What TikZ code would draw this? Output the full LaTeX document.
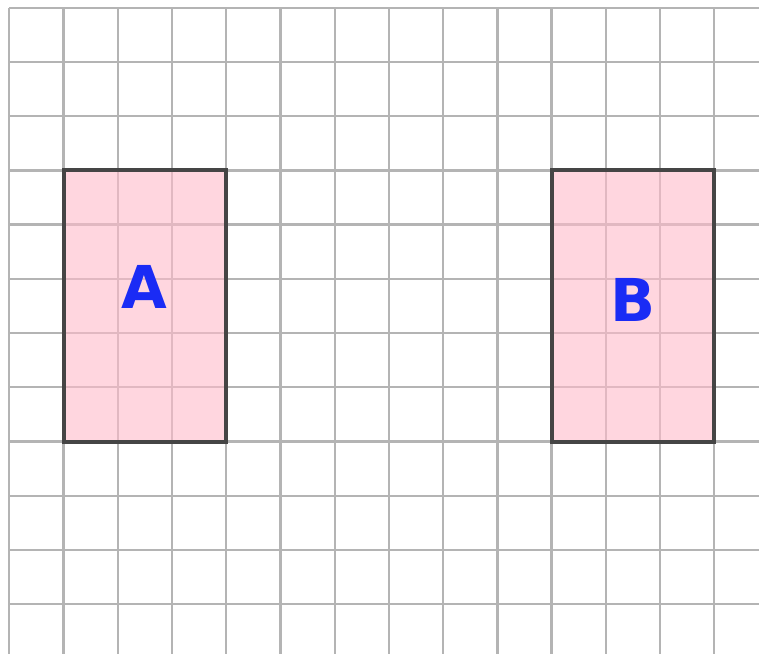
\documentclass[tikz,border=0pt]{standalone}
\usepackage{fontspec}
\setmainfont{DejaVu Sans}
\usepackage{xcolor}
\definecolor{gridgray}{HTML}{B4B4B4}
\definecolor{boxpink}{HTML}{FFBBCA}
\definecolor{boxedge}{HTML}{454545}
\definecolor{letterblue}{HTML}{1A2BF5}

\begin{document}
\begin{tikzpicture}[
    gridline/.style={gridgray, line width=1.2pt},
    shape box/.style={rectangle, draw=boxedge, line width=2.1pt, fill=boxpink, fill opacity=0.6, minimum width=3cm, minimum height=5cm, inner sep=0pt},
    letter/.style={text=letterblue, font=\fontsize{31}{31}\selectfont\bfseries}
]
    \useasboundingbox (-0.171,0.142) rectangle (13.824,-11.918);

    % Draw grid
    \foreach \x in {0,...,13}
        \draw [gridline] (\x,0) -- (\x,-11.918);
    \foreach \y in {0,...,11}
        \draw [gridline] (0,-\y) -- (13.824,-\y);

    % Define nodes
    \node [shape box] (rectA) at (2.5,-5.5) {};
    \node [shape box] (rectB) at (11.5,-5.5) {};
    \node [letter] (labelA) at (2.5,-5.15) {A};
    \node [letter] (labelB) at (11.5,-5.39) {B};
\end{tikzpicture}
\end{document}
